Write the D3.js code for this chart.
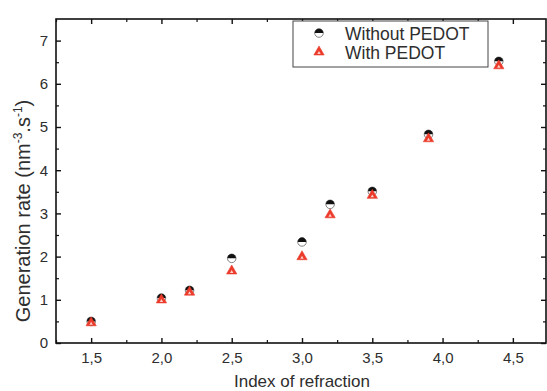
<!DOCTYPE html>
<html><head><meta charset="utf-8">
<script src="https://cdn.jsdelivr.net/npm/d3@7"></script>
<style>body{margin:0;background:#fff}svg{display:block}</style>
</head><body>
<svg id="c" width="547" height="391"></svg>
<script>
const xValues = [1.5, 2.0, 2.2, 2.5, 3.0, 3.2, 3.5, 3.9, 4.4];
const withoutPEDOT = [0.50, 1.04, 1.22, 1.96, 2.34, 3.21, 3.51, 4.83, 6.52];
const withPEDOT = [0.49, 1.02, 1.20, 1.69, 2.02, 2.99, 3.44, 4.75, 6.44];
const seriesNames = ["Without PEDOT", "With PEDOT"];
const xTickValues = [1.5, 2.0, 2.5, 3.0, 3.5, 4.0, 4.5];
const yTickValues = [0, 1, 2, 3, 4, 5, 6, 7];

const svg = d3.select("#c");
const m = {l: 56, r: 548, t: 19, b: 343};
const x = d3.scaleLinear().domain([1.25, 4.75]).range([m.l, m.r]);
const y = d3.scaleLinear().domain([0, 7.5]).range([m.b, m.t]);
const font = "'Liberation Sans', Arial, sans-serif";
const txt = "#2e2e2e";

const xMinor = d3.range(1.25, 4.76, 0.25).filter(v => !xTickValues.some(t => Math.abs(t - v) < 1e-6));
const yMinor = d3.range(0.5, 7.5, 1);

function axisTicks(axisGen, transform, major, minor, labels) {
  const gM = svg.append("g").attr("transform", transform)
    .call(axisGen.tickValues(major).tickSizeInner(-5).tickSizeOuter(0)
      .tickFormat(labels ? (d => d3.format(".1f")(d).replace(".", ",")) : () => ""));
  gM.select(".domain").remove();
  gM.selectAll(".tick line").attr("stroke", "#111").attr("stroke-width", 1.4);
  const gm = svg.append("g").attr("transform", transform)
    .call(axisGen.tickValues(minor).tickSizeInner(-3).tickSizeOuter(0).tickFormat(() => ""));
  gm.select(".domain").remove();
  gm.selectAll(".tick line").attr("stroke", "#111").attr("stroke-width", 1.2);
  return gM;
}

const gx = axisTicks(d3.axisBottom(x), `translate(0,${m.b})`, xTickValues, xMinor, true);
gx.selectAll(".tick text").attr("font-family", font).attr("font-size", 15).attr("fill", txt).attr("y", 9);
axisTicks(d3.axisTop(x), `translate(0,${m.t})`, xTickValues, xMinor, false);
const gy = svg.append("g").attr("transform", `translate(${m.l},0)`)
  .call(d3.axisLeft(y).tickValues(yTickValues).tickSizeInner(-5).tickSizeOuter(0).tickFormat(d3.format("d")));
gy.select(".domain").remove();
gy.selectAll(".tick line").attr("stroke", "#111").attr("stroke-width", 1.4);
gy.selectAll(".tick text").attr("font-family", font).attr("font-size", 15).attr("fill", txt).attr("x", -8);
const gym = svg.append("g").attr("transform", `translate(${m.l},0)`)
  .call(d3.axisLeft(y).tickValues(yMinor).tickSizeInner(-3).tickSizeOuter(0).tickFormat(() => ""));
gym.select(".domain").remove();
gym.selectAll(".tick line").attr("stroke", "#111").attr("stroke-width", 1.2);
axisTicks(d3.axisRight(y), `translate(${m.r - 2},0)`, yTickValues, yMinor, false);

svg.append("rect").attr("x", m.l).attr("y", m.t).attr("width", m.r - 2 - m.l).attr("height", m.b - m.t)
  .attr("fill", "none").attr("stroke", "#111").attr("stroke-width", 1.6);

// axis titles
svg.append("text").attr("x", (m.l + m.r) / 2).attr("y", 387).attr("text-anchor", "middle")
  .attr("font-family", font).attr("font-size", 17).attr("fill", txt).text("Index of refraction");
const yt = svg.append("text").attr("transform", "translate(30,211) rotate(-90)").attr("text-anchor", "middle")
  .attr("font-family", font).attr("font-size", 20).attr("fill", txt);
yt.append("tspan").text("Generation rate (nm");
yt.append("tspan").attr("font-size", 12).attr("dy", -8).text("-3");
yt.append("tspan").attr("dy", 8).text(".s");
yt.append("tspan").attr("font-size", 12).attr("dy", -8).text("-1");
yt.append("tspan").attr("dy", 8).text(")");

// markers
function halfCircle(g, cx, cy, r) {
  g.append("circle").attr("cx", cx).attr("cy", cy).attr("r", r).attr("fill", "#fff").attr("stroke", "#666").attr("stroke-width", 0.8);
  g.append("path").attr("d", `M${cx - r},${cy} A${r},${r} 0 0 1 ${cx + r},${cy} Z`).attr("fill", "#111");
}
const tri = d3.symbol().type(d3.symbolTriangle);
function triangle(g, cx, cy) {
  g.append("path").attr("d", tri.size(46)()).attr("transform", `translate(${cx},${cy + 1})`)
    .attr("fill", "#ec3b2b").attr("stroke", "#e8392a").attr("stroke-width", 0.6);
  g.append("path").attr("d", tri.size(5)()).attr("transform", `translate(${cx},${cy + 2})`).attr("fill", "#fbd0c8");
}
const gc = svg.append("g");
xValues.forEach((v, i) => halfCircle(gc, x(v), y(withoutPEDOT[i]), 4.3));
const gt = svg.append("g");
xValues.forEach((v, i) => triangle(gt, x(v), y(withPEDOT[i])));

// legend
const lg = svg.append("g");
lg.append("rect").attr("x", 293).attr("y", 21).attr("width", 195).attr("height", 46)
  .attr("fill", "#fff").attr("stroke", "#444").attr("stroke-width", 1);
halfCircle(lg, 319, 33, 4.3);
triangle(lg, 319, 51);
lg.selectAll("text.l").data(seriesNames).join("text").attr("class", "l")
  .attr("x", 345).attr("y", (d, i) => 39.5 + i * 19)
  .attr("font-family", font).attr("font-size", 17.5).attr("fill", txt).text(d => d);
</script>
</body></html>
